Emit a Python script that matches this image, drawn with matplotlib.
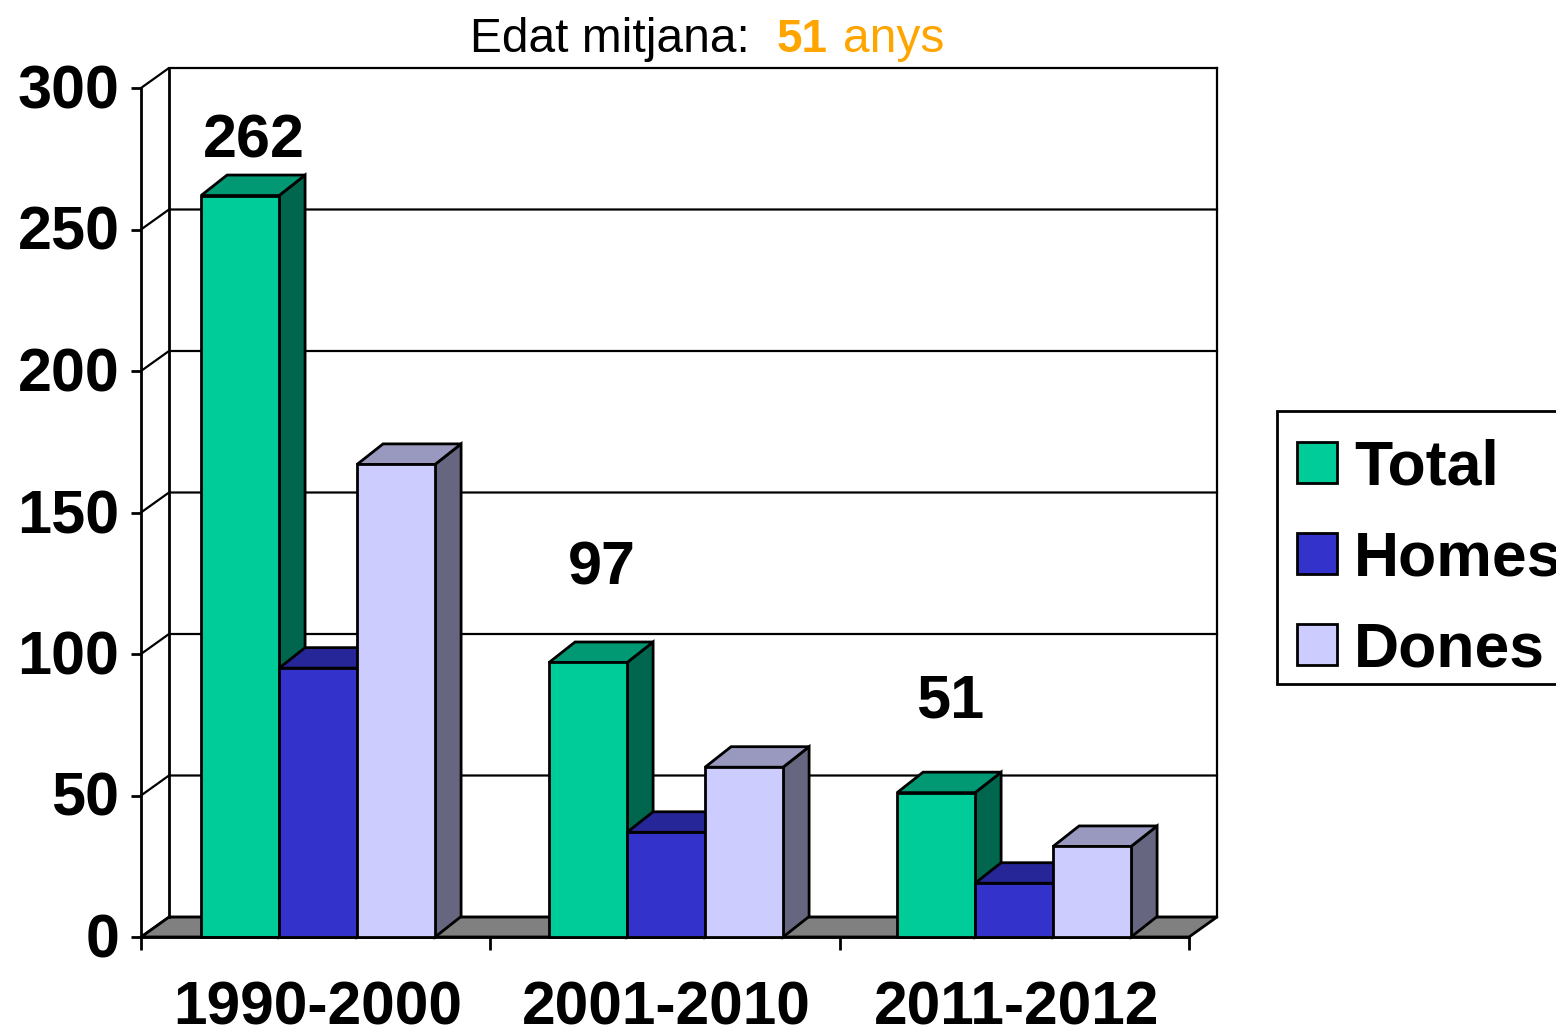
import matplotlib
matplotlib.use("Agg")
import matplotlib.pyplot as plt
from matplotlib.patches import Polygon, Patch, Rectangle
from matplotlib.transforms import Affine2D

plt.rcParams['font.family'] = ['Liberation Sans', 'DejaVu Sans']

W, H = 1556, 1029

periods = ['1990-2000', '2001-2010', '2011-2012']
total = [262, 97, 51]
homes = [95, 37, 19]
dones = [167, 60, 32]
y_ticks = [0, 50, 100, 150, 200, 250, 300]
label_heights = [275.5, 124.7, 77.4]

series = [
    ('Total', total, '#00CC99', '#009973', '#00664D'),
    ('Homes', homes, '#3333CC', '#262699', '#1A1A66'),
    ('Dones', dones, '#CCCCFF', '#9999BF', '#666680'),
]

LW = 2.0
GRID_LW = 1.6

fig = plt.figure(figsize=(W / 100, H / 100), dpi=100, facecolor='white')
ax = fig.add_axes([141 / W, (H - 937) / H, 1048 / W, 849 / H])
ax.patch.set_visible(False)
ax.set_xlim(0, 3)
ax.set_ylim(0, 300)

# depth of the walls and of the bars, in data units
x_per_px = 3 / 1048
y_per_px = 300 / 849
wall_dx, wall_dy = 28 * x_per_px, 20 * y_per_px
bar_dx, bar_dy = 26 * x_per_px, 20.5 * y_per_px
bar_w = 78 * x_per_px

# floor and back walls
ax.add_patch(Polygon([(0, 0), (3, 0), (3 + wall_dx, wall_dy), (wall_dx, wall_dy)],
                     closed=True, fc='#808080', ec='black', lw=LW, zorder=1, clip_on=False))
for t in y_ticks:
    ax.plot([0, wall_dx, 3 + wall_dx], [t, t + wall_dy, t + wall_dy],
            color='black', lw=GRID_LW, zorder=1.1, clip_on=False, solid_joinstyle='miter')
ax.plot([wall_dx, wall_dx], [wall_dy, 300 + wall_dy], color='black', lw=LW, zorder=1.1, clip_on=False)
ax.plot([3 + wall_dx, 3 + wall_dx], [wall_dy, 300 + wall_dy], color='black', lw=GRID_LW, zorder=1.1, clip_on=False)

# bars, left to right so each one hides the side of the previous one
z = 2
for i in range(len(periods)):
    left = i * 0.9962 + 0.172  # groups are a bit tighter than the ticks
    for j, (name, vals, front, top, side) in enumerate(series):
        x0 = left + j * bar_w
        x1 = x0 + bar_w
        v = vals[i]
        ax.add_patch(Polygon([(x1, 0), (x1 + bar_dx, bar_dy), (x1 + bar_dx, v + bar_dy), (x1, v)],
                             closed=True, fc=side, ec='black', lw=LW, zorder=z, clip_on=False))
        ax.add_patch(Polygon([(x0, v), (x1, v), (x1 + bar_dx, v + bar_dy), (x0 + bar_dx, v + bar_dy)],
                             closed=True, fc=top, ec='black', lw=LW, zorder=z, clip_on=False))
        ax.bar(x0, v, width=bar_w, align='edge', color=front, edgecolor='black',
               linewidth=LW, zorder=z + 0.1, clip_on=False)
        z += 1
    ax.annotate(str(total[i]), (left + bar_w / 2, label_heights[i]), xytext=(10, 0),
                textcoords='offset points', ha='center', va='baseline',
                fontsize=44, fontweight='bold', color='black')

# axes
for s in ['top', 'right']:
    ax.spines[s].set_visible(False)
for s in ['left', 'bottom']:
    ax.spines[s].set_linewidth(LW)
ax.set_yticks(y_ticks)
ax.set_yticklabels([str(t) for t in y_ticks], fontsize=44, fontweight='bold')
ax.tick_params(axis='y', length=7.5, width=LW, pad=8)
for lab in ax.get_yticklabels():
    lab.set_transform(lab.get_transform() + Affine2D().translate(0, 1.5))
ax.set_xticks([0, 1, 2, 3])
ax.set_xticklabels([])
ax.tick_params(axis='x', which='major', length=9, width=LW)
ax.set_xticks([0.505, 1.505, 2.505], minor=True)
ax.set_xticklabels(periods, minor=True, fontsize=43.6, fontweight='bold')
ax.tick_params(axis='x', which='minor', length=0, pad=31)

# title in three pieces
y_title = (H - 52) / H
fig.text(470 / W, y_title, 'Edat mitjana:', fontsize=34.5, color='black', va='baseline')
fig.text(777 / W, y_title, '51', fontsize=33, fontweight='bold', color='#FFA500', va='baseline')
fig.text(843 / W, y_title, 'anys', fontsize=34.5, color='#FFA500', va='baseline')

# legend box runs off the right edge, so it is drawn on its own
fig.add_artist(Rectangle((1277 / W, (H - 684) / H), 400 / W, 273 / H, transform=fig.transFigure,
                         fc='white', ec='black', lw=LW, clip_on=False, zorder=1))
handles = [Patch(fc=s[2], ec='black', lw=LW, label=s[0]) for s in series]
leg = fig.legend(handles=handles, loc='upper left', bbox_to_anchor=(1278 / W, (H - 420) / H),
                 bbox_transform=fig.transFigure, frameon=False,
                 prop={'size': 45, 'weight': 'bold'}, borderaxespad=0, borderpad=0.3,
                 handlelength=0.64, handleheight=0.64, handletextpad=0.28, labelspacing=0.51)
leg.set_zorder(2)

fig.savefig('out.png', dpi=100, facecolor='white')
